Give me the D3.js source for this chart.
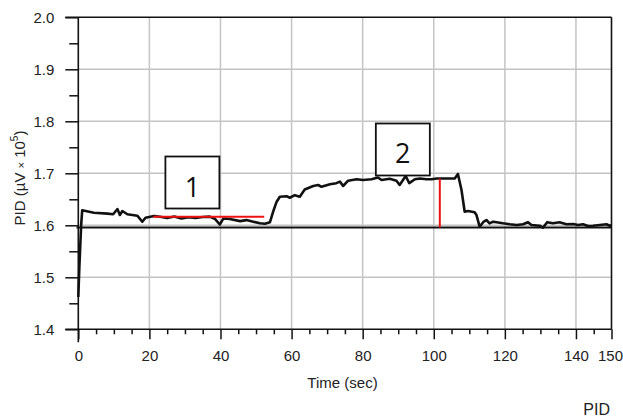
<!DOCTYPE html>
<html>
<head>
<meta charset="utf-8">
<script src="https://cdn.jsdelivr.net/npm/d3@7"></script>
<style>
  body { margin: 0; background: #fff; }
  svg { display: block; font-family: "Liberation Sans", Arial, sans-serif; }
</style>
</head>
<body>
<svg width="623" height="420"></svg>
<script>
// PID signal (time in sec, value in µV x 10^5)
const timeSec = [0, 0.3, 0.8, 1.1, 4.4, 8.2, 9.8, 11, 11.7, 12.4, 13.8, 16.6, 18, 18.9, 21.3,
  23, 25, 27, 29, 31, 33, 35, 37, 38.5, 39.8, 40.8, 42.6, 45.5, 47.3, 49.2, 51.1, 52.5, 53.9,
  54.8, 55.8, 56.7, 58.6, 59.5, 60.9, 62.3, 63.7, 66.1, 67.5, 68.4, 70.8, 72.6, 73.6, 74.5,
  75.9, 78.3, 80.1, 82.5, 84.3, 85.3, 87.6, 89.5, 90.4, 92.1, 93.1, 94.7, 96.1, 98, 99.4,
  100.8, 103.6, 105.9, 106.8, 107.8, 108.7, 109.6, 111.5, 112, 112.9, 113.9, 114.8, 115.7,
  116.7, 119.5, 121.4, 123.3, 125.1, 126.5, 127.5, 129.8, 130.7, 131.9, 133.5, 135.4, 137.3,
  139.2, 140.6, 142, 143.4, 144.8, 146.7, 148.6, 149.5, 150];
const pidValue = [1.462, 1.52, 1.60, 1.629, 1.6242, 1.6225, 1.6212, 1.6313, 1.6198, 1.6275,
  1.6212, 1.6185, 1.6069, 1.6146, 1.6179,
  1.6165, 1.614, 1.617, 1.613, 1.6155, 1.614, 1.616, 1.6166, 1.612, 1.6015, 1.613, 1.612,
  1.608, 1.610, 1.607, 1.604, 1.603, 1.6058,
  1.626, 1.6454, 1.655, 1.656, 1.653, 1.658, 1.655, 1.669, 1.6756, 1.6775, 1.674, 1.679,
  1.681, 1.684, 1.6756, 1.6858, 1.6885, 1.687, 1.6885, 1.692, 1.687, 1.6896, 1.6858, 1.6775,
  1.6948, 1.681, 1.6885, 1.690, 1.6885, 1.6885, 1.690, 1.690, 1.690, 1.6987, 1.668, 1.626,
  1.6275, 1.625, 1.620, 1.5973, 1.606, 1.6102, 1.6038, 1.607, 1.6038, 1.602, 1.6006, 1.602,
  1.606, 1.6006, 1.5992, 1.5954, 1.606, 1.6038, 1.606, 1.602, 1.6025, 1.6006, 1.602, 1.5986,
  1.5992, 1.6006, 1.602, 1.5992, 1.600];

const baselineValue = 1.596;
const baselineTime = [-0.5, 150];

// red markers
const level1 = { t0: 21.1, t1: 52.3, v: 1.6165 };
const step2 = { t: 101.7, v0: baselineValue, v1: 1.69 };

// annotation boxes
const boxLabels = ["1", "2"];
const boxTimes = [32.1, 91.3];     // box centre, sec
const boxValues = [1.6823, 1.7458]; // box centre, value

const xMajor = [0, 20, 40, 60, 80, 100, 120, 140, 150];
const xMinor = d3.range(5, 150, 5).filter(d => d % 20 !== 0 && d !== 150);
const yMajor = [1.4, 1.5, 1.6, 1.7, 1.8, 1.9, 2.0];
const yMinor = [1.45, 1.55, 1.65, 1.75, 1.85, 1.95];

const font = "'Liberation Sans', Arial, sans-serif";
const svg = d3.select("svg");
const x = d3.scaleLinear().domain([0, 150]).range([78.3, 611.5]);
const y = d3.scaleLinear().domain([1.4, 2.0]).range([329.3, 17.3]);

// grid
const grid = svg.append("g").attr("stroke", "#c4c4c4").attr("stroke-width", 1.5);
grid.selectAll("line.gx")
  .data([20, 40, 60, 80, 100, 120, 140])
  .enter().append("line")
  .attr("x1", d => x(d)).attr("x2", d => x(d))
  .attr("y1", y(2.0)).attr("y2", y(1.4));
grid.selectAll("line.gy")
  .data([1.5, 1.6, 1.7, 1.8, 1.9])
  .enter().append("line")
  .attr("x1", x(0)).attr("x2", x(150))
  .attr("y1", d => y(d)).attr("y2", d => y(d));

// axes
const xAxis = svg.append("g")
  .attr("transform", "translate(0," + y(1.4) + ")")
  .call(d3.axisBottom(x).tickValues(xMajor).tickSize(10).tickSizeOuter(0).tickPadding(11)
    .tickFormat(d3.format("d")));
xAxis.select(".domain").remove();
svg.append("g")
  .attr("transform", "translate(0," + y(1.4) + ")")
  .call(d3.axisBottom(x).tickValues(xMinor).tickSize(5).tickFormat(""))
  .select(".domain").remove();

const yAxis = svg.append("g")
  .attr("transform", "translate(" + x(0) + ",0)")
  .call(d3.axisLeft(y).tickValues(yMajor).tickSize(13).tickSizeOuter(0).tickPadding(11)
    .tickFormat(d3.format(".1f")));
yAxis.select(".domain").remove();
svg.append("g")
  .attr("transform", "translate(" + x(0) + ",0)")
  .call(d3.axisLeft(y).tickValues(yMinor).tickSize(9).tickFormat(""))
  .select(".domain").remove();

svg.selectAll(".tick line").attr("stroke", "#111").attr("stroke-width", 1.5);
svg.selectAll(".tick text").attr("font-size", 15).attr("fill", "#222")
  .attr("font-family", font);
// last label sits against the right edge
xAxis.selectAll(".tick text").filter(d => d === 150)
  .attr("text-anchor", "end").attr("x", 11);

// frame lines
const frame = svg.append("g").attr("stroke", "#111").attr("stroke-width", 1.6);
frame.append("line").attr("x1", x(0)).attr("x2", x(0)).attr("y1", y(2.0)).attr("y2", y(1.4) + 13);
frame.append("line").attr("x1", x(0) - 13).attr("x2", x(150)).attr("y1", y(1.4)).attr("y2", y(1.4));
frame.append("line").attr("x1", x(0) - 13).attr("x2", x(150)).attr("y1", y(2.0)).attr("y2", y(2.0));
frame.append("line").attr("x1", x(150)).attr("x2", x(150)).attr("y1", y(2.0)).attr("y2", y(1.4));

// baseline
svg.append("line")
  .attr("x1", x(baselineTime[0])).attr("x2", x(baselineTime[1]))
  .attr("y1", y(baselineValue)).attr("y2", y(baselineValue))
  .attr("stroke", "#111").attr("stroke-width", 2);

// signal
const line = d3.line().x((d, i) => x(timeSec[i])).y(d => y(d));
svg.append("path")
  .datum(pidValue)
  .attr("d", line)
  .attr("fill", "none")
  .attr("stroke", "#111")
  .attr("stroke-width", 2.6)
  .attr("stroke-linejoin", "round");

// red markers
svg.append("line")
  .attr("x1", x(level1.t0)).attr("x2", x(level1.t1))
  .attr("y1", y(level1.v)).attr("y2", y(level1.v))
  .attr("stroke", "#ee1111").attr("stroke-width", 2);
svg.append("line")
  .attr("x1", x(step2.t)).attr("x2", x(step2.t))
  .attr("y1", y(step2.v1)).attr("y2", y(step2.v0))
  .attr("stroke", "#ee1111").attr("stroke-width", 2);

// annotation boxes
const boxes = svg.selectAll("g.box")
  .data(boxLabels)
  .enter().append("g")
  .attr("transform", (d, i) => "translate(" + x(boxTimes[i]) + "," + y(boxValues[i]) + ")");
boxes.append("rect")
  .attr("x", -27).attr("y", -26).attr("width", 54).attr("height", 52)
  .attr("fill", "#fff").attr("stroke", "#111").attr("stroke-width", 1.8);
boxes.append("text")
  .attr("text-anchor", "middle").attr("y", 14)
  .attr("font-family", "'Open Sans', 'Noto Sans', sans-serif")
  .attr("font-size", 27).attr("fill", "#111")
  .text(d => d);

// axis titles
svg.append("text")
  .attr("x", 342.5).attr("y", 388)
  .attr("text-anchor", "middle").attr("font-size", 15).attr("fill", "#222")
  .text("Time (sec)");

const yt = svg.append("text")
  .attr("transform", "translate(25,178) rotate(-90)")
  .attr("text-anchor", "middle").attr("font-size", 15).attr("fill", "#222");
yt.append("tspan").text("PID (µV ");
yt.append("tspan").attr("font-size", 11).text("×");
yt.append("tspan").text(" 10");
yt.append("tspan").attr("font-size", 10).attr("dy", -7).text("5");
yt.append("tspan").attr("dy", 7).text(")");

svg.append("text")
  .attr("x", 610).attr("y", 415)
  .attr("text-anchor", "end").attr("font-size", 16).attr("fill", "#222")
  .text("PID");
</script>
</body>
</html>
